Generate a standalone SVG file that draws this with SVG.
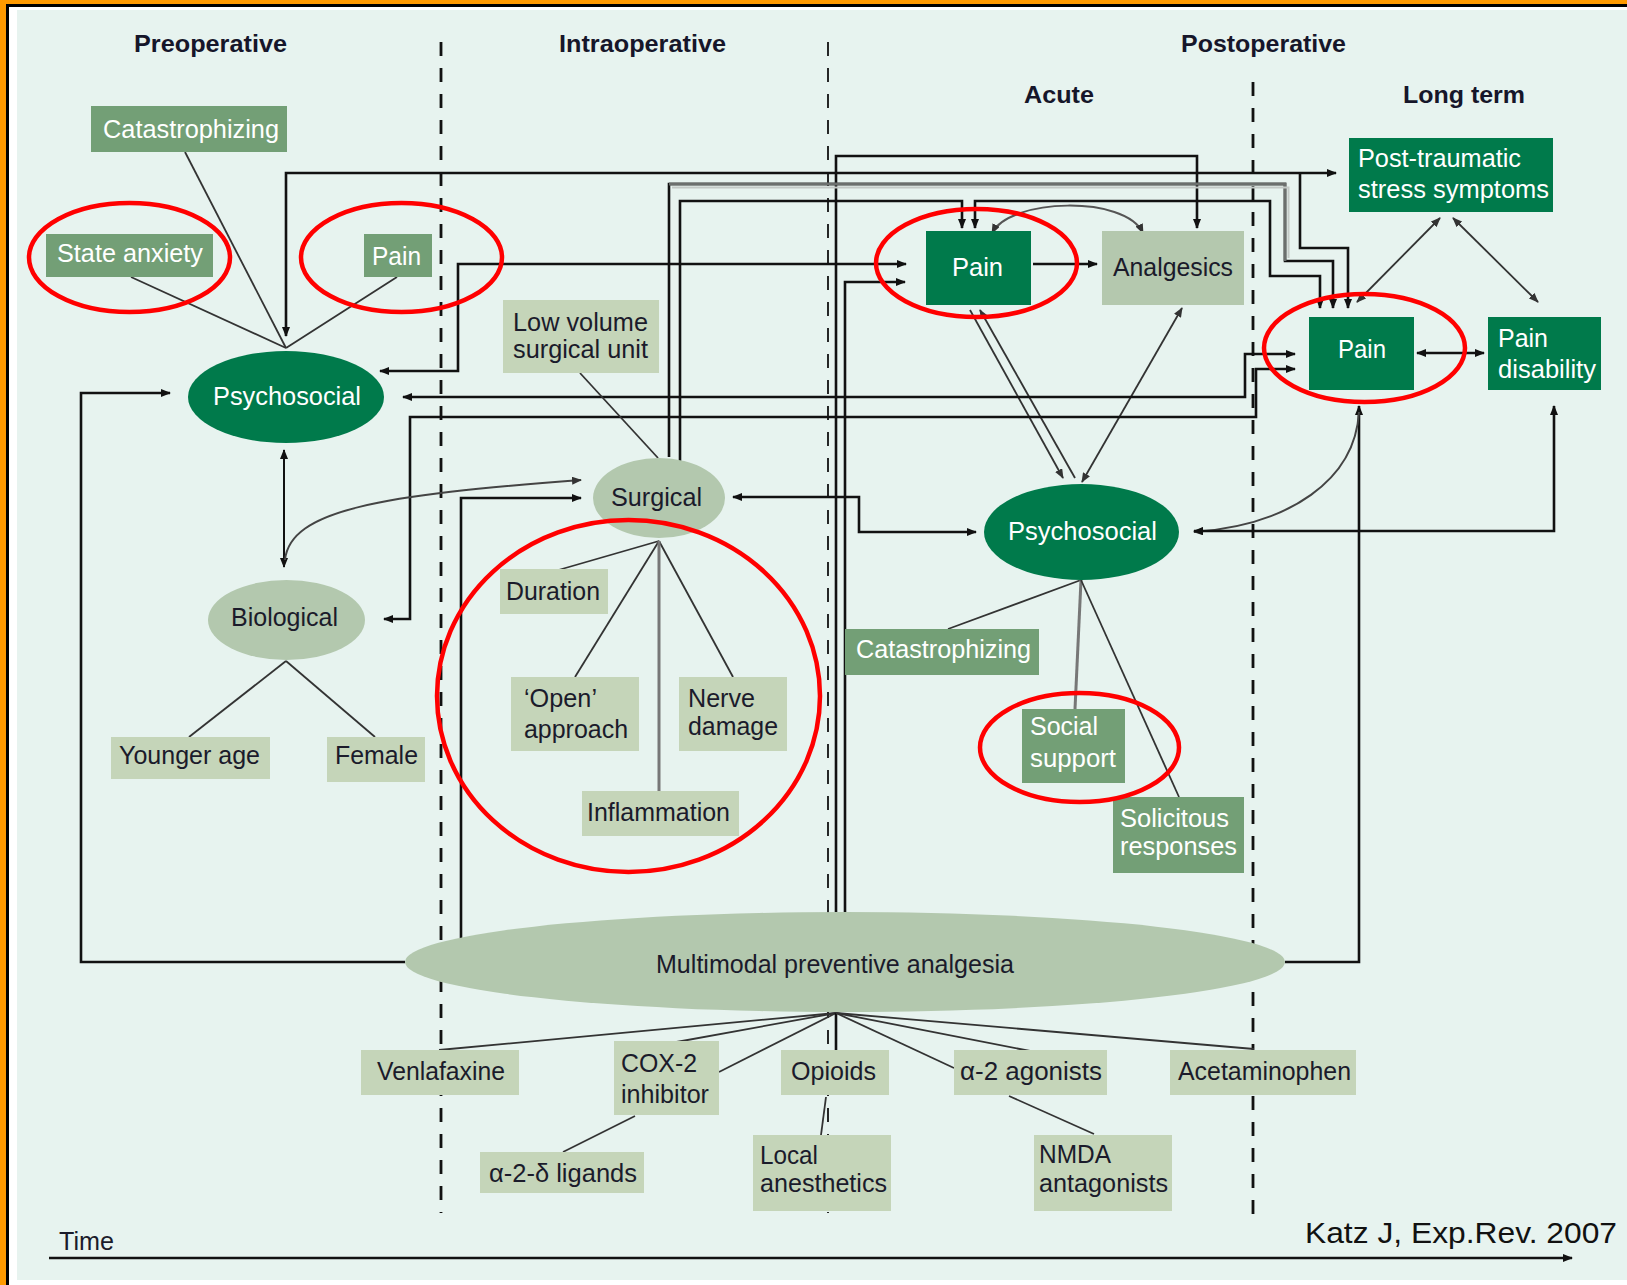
<svg xmlns="http://www.w3.org/2000/svg" width="1627" height="1285" viewBox="0 0 1627 1285">
<defs>
<marker id="ah" markerUnits="userSpaceOnUse" markerWidth="10" markerHeight="8" refX="9" refY="4" orient="auto-start-reverse"><path d="M0,0 L10,4 L0,8 z" fill="#111"/></marker>
<marker id="ahg" markerUnits="userSpaceOnUse" markerWidth="10" markerHeight="8" refX="9" refY="4" orient="auto-start-reverse"><path d="M0,0 L10,4 L0,8 z" fill="#333"/></marker>
<style>
.bg{fill:#E7F3EF}
.dk{fill:#007A4B}
.md{fill:#739F76}
.lt{fill:#C5D5B9}
.le{fill:#B3C8AE}
.red{fill:none;stroke:#FF0000;stroke-width:4.5}
.c{fill:none;stroke:#111;stroke-width:2.6}
.t{fill:none;stroke:#333;stroke-width:1.8}
.tg{fill:none;stroke:#777;stroke-width:3}
.dash1{stroke:#111;stroke-width:2.8;stroke-dasharray:14 12;fill:none}
.dash2{stroke:#111;stroke-width:1.8;stroke-dasharray:14 12;fill:none}
text{font-family:"Liberation Sans",Arial,sans-serif;font-size:25px}
.w{fill:#FFFFFF}
.b{fill:#1B1B2B}
.h{font-weight:bold;font-size:24px;fill:#16162A}
</style>
</defs>
<rect x="0" y="0" width="1627" height="1285" fill="#FF9A00"/>
<rect x="6" y="4" width="1621" height="1281" fill="#000"/>
<rect x="9" y="7" width="1618" height="1278" fill="#FFFFFF"/>
<rect x="17" y="10" width="1610" height="1270" class="bg"/>

<g id="phase-lines">
<line x1="441" y1="42" x2="441" y2="1213" class="dash1"/>
<line x1="828" y1="42" x2="828" y2="1213" class="dash2"/>
<line x1="1253" y1="82" x2="1253" y2="1225" class="dash1"/>
</g>

<g id="headers">
<text class="h" x="134" y="52" textLength="153" lengthAdjust="spacingAndGlyphs">Preoperative</text>
<text class="h" x="559" y="52" textLength="167" lengthAdjust="spacingAndGlyphs">Intraoperative</text>
<text class="h" x="1181" y="52" textLength="165" lengthAdjust="spacingAndGlyphs">Postoperative</text>
<text class="h" x="1024" y="103" textLength="70" lengthAdjust="spacingAndGlyphs">Acute</text>
<text class="h" x="1403" y="103" textLength="122" lengthAdjust="spacingAndGlyphs">Long term</text>
</g>

<g id="connectors">
<line x1="185" y1="152" x2="286" y2="348" class="t"/>
<line x1="131" y1="277" x2="286" y2="348" class="t"/>
<line x1="397" y1="277" x2="286" y2="348" class="t"/>
<path d="M286,336 V173 H1336" class="c" marker-start="url(#ah)" marker-end="url(#ah)"/>
<path d="M1300,173 V248 H1348 V308" class="c" marker-end="url(#ah)"/>
<path d="M836,912 V156 H1197 V228" class="c" marker-end="url(#ah)"/>
<path d="M669,457 V184 H1285 V261 H1333 V308" class="c" marker-end="url(#ah)"/>
<path d="M669,184 H1285 V261" fill="none" stroke="#6B6F6D" stroke-width="2.8"/>
<path d="M672,187.5 H1288.5 V258" fill="none" stroke="#C3C9C6" stroke-width="2"/>
<path d="M680,461 V201 H962 V228" class="c" marker-end="url(#ah)"/>
<path d="M975,228 V201 H1270 V276 H1320 V308" class="c" marker-start="url(#ah)" marker-end="url(#ah)"/>
<path d="M380,371 H458 V264 H906" class="c" marker-start="url(#ah)" marker-end="url(#ah)"/>
<path d="M845,912 V282 H905" class="c" marker-end="url(#ah)"/>
<path d="M1033,264 H1097" class="c" marker-end="url(#ah)"/>
<path d="M992,233 C1010,198 1125,195 1143,233" fill="none" stroke="#555" stroke-width="2" marker-start="url(#ahg)" marker-end="url(#ahg)"/>
<line x1="970" y1="310" x2="1063" y2="478" class="t" stroke-width="2" marker-end="url(#ahg)"/>
<line x1="980" y1="310" x2="1075" y2="478" class="t" stroke-width="2" marker-start="url(#ahg)"/>
<line x1="1182" y1="308" x2="1082" y2="482" class="t" stroke-width="2" marker-start="url(#ahg)" marker-end="url(#ahg)"/>
<path d="M403,397 H1245 V354 H1295" class="c" marker-start="url(#ah)" marker-end="url(#ah)"/>
<path d="M384,619 H410 V417 H1256 V369 H1295" class="c" marker-start="url(#ah)" marker-end="url(#ah)"/>
<path d="M170,393 H81 V962 H405" class="c" marker-start="url(#ah)"/>
<path d="M1285,962 H1359 V406" class="c" marker-end="url(#ah)"/>
<path d="M461,938 V498 H581" class="c" marker-end="url(#ah)"/>
<path d="M733,497 H859 V532 H976" class="c" marker-start="url(#ah)" marker-end="url(#ah)"/>
<path d="M284,450 V567" fill="none" stroke="#111" stroke-width="2" marker-start="url(#ah)" marker-end="url(#ah)"/>
<path d="M285,560 C290,510 380,495 581,480" fill="none" stroke="#444" stroke-width="2" marker-end="url(#ahg)"/>
<path d="M1417,353 H1484" class="c" marker-start="url(#ah)" marker-end="url(#ah)"/>
<line x1="1357" y1="302" x2="1440" y2="218" class="t" marker-start="url(#ahg)" marker-end="url(#ahg)"/>
<line x1="1453" y1="218" x2="1538" y2="302" class="t" marker-start="url(#ahg)" marker-end="url(#ahg)"/>
<path d="M1359,412 C1355,480 1290,525 1194,532" fill="none" stroke="#444" stroke-width="2" marker-end="url(#ahg)"/>
<path d="M1554,406 V531 H1194" class="c" marker-start="url(#ah)" marker-end="url(#ah)"/>
<line x1="1081" y1="580" x2="948" y2="629" class="t"/>
<line x1="1081" y1="580" x2="1075" y2="709" class="tg" stroke-width="2.4"/>
<line x1="1081" y1="580" x2="1179" y2="797" class="t"/>
<line x1="580" y1="373" x2="658" y2="458" class="t"/>
<line x1="659" y1="541" x2="555" y2="571" class="t"/>
<line x1="659" y1="541" x2="575" y2="677" class="t"/>
<line x1="659" y1="541" x2="733" y2="677" class="t"/>
<line x1="659" y1="541" x2="659" y2="791" class="tg"/>
<line x1="286" y1="661" x2="189" y2="737" class="t"/>
<line x1="286" y1="661" x2="375" y2="737" class="t"/>
<line x1="836" y1="1013" x2="439" y2="1050" class="t" stroke-width="2.2"/>
<line x1="836" y1="1013" x2="671" y2="1043" class="t" stroke-width="2.2"/>
<line x1="836" y1="1013" x2="719" y2="1072" class="t"/>
<line x1="836" y1="1013" x2="836" y2="1050" class="c" stroke-width="2.2"/>
<line x1="836" y1="1013" x2="954" y2="1068" class="t"/>
<line x1="836" y1="1013" x2="1030" y2="1051" class="t" stroke-width="2.2"/>
<line x1="836" y1="1013" x2="1254" y2="1049" class="t" stroke-width="2.2"/>
<line x1="635" y1="1116" x2="563" y2="1152" class="t"/>
<line x1="826" y1="1097" x2="821" y2="1135" class="t"/>
<line x1="1009" y1="1096" x2="1094" y2="1134" class="t"/>
<line x1="49" y1="1258" x2="1572" y2="1258" class="c" stroke-width="3" marker-end="url(#ah)"/>
</g>

<g id="pre-catastrophizing"><rect x="91" y="106" width="196" height="46" class="md"/><text class="w" x="103" y="138" textLength="176" lengthAdjust="spacingAndGlyphs">Catastrophizing</text></g>
<g id="pre-state-anxiety"><rect x="46" y="234" width="167" height="43" class="md"/><text class="w" x="57" y="262" textLength="146" lengthAdjust="spacingAndGlyphs">State anxiety</text></g>
<g id="pre-pain"><rect x="364" y="234" width="68" height="43" class="md"/><text class="w" x="372" y="265" textLength="49" lengthAdjust="spacingAndGlyphs">Pain</text></g>
<g id="pre-psychosocial"><ellipse cx="286" cy="397" rx="98" ry="46" class="dk"/><text class="w" x="213" y="405" textLength="148" lengthAdjust="spacingAndGlyphs">Psychosocial</text></g>
<g id="pre-biological"><ellipse cx="286.5" cy="620" rx="78.5" ry="40" class="le"/><text class="b" x="231" y="626" textLength="107" lengthAdjust="spacingAndGlyphs">Biological</text></g>
<g id="younger-age"><rect x="111" y="737" width="159" height="42" class="lt"/><text class="b" x="119" y="764" textLength="141" lengthAdjust="spacingAndGlyphs">Younger age</text></g>
<g id="female"><rect x="327" y="737" width="98" height="45" class="lt"/><text class="b" x="335" y="764" textLength="83" lengthAdjust="spacingAndGlyphs">Female</text></g>

<g id="low-volume"><rect x="503" y="300" width="156" height="73" class="lt"/><text class="b" x="513" y="331" textLength="135" lengthAdjust="spacingAndGlyphs">Low volume</text><text class="b" x="513" y="358" textLength="135" lengthAdjust="spacingAndGlyphs">surgical unit</text></g>
<g id="surgical"><ellipse cx="659" cy="498" rx="66" ry="40" class="le"/><text class="b" x="611" y="506" textLength="91" lengthAdjust="spacingAndGlyphs">Surgical</text></g>
<g id="duration"><rect x="500" y="569" width="108" height="45" class="lt"/><text class="b" x="506" y="600" textLength="94" lengthAdjust="spacingAndGlyphs">Duration</text></g>
<g id="open-approach"><rect x="511" y="677" width="128" height="74" class="lt"/><text class="b" x="524" y="707" textLength="73" lengthAdjust="spacingAndGlyphs">‘Open’</text><text class="b" x="524" y="738" textLength="104" lengthAdjust="spacingAndGlyphs">approach</text></g>
<g id="nerve-damage"><rect x="679" y="677" width="108" height="74" class="lt"/><text class="b" x="688" y="707" textLength="67" lengthAdjust="spacingAndGlyphs">Nerve</text><text class="b" x="688" y="735" textLength="90" lengthAdjust="spacingAndGlyphs">damage</text></g>
<g id="inflammation"><rect x="582" y="791" width="157" height="45" class="lt"/><text class="b" x="587" y="821" textLength="143" lengthAdjust="spacingAndGlyphs">Inflammation</text></g>

<g id="acute-pain"><rect x="926" y="231" width="105" height="74" class="dk"/><text class="w" x="952" y="276" textLength="51" lengthAdjust="spacingAndGlyphs">Pain</text></g>
<g id="analgesics"><rect x="1102" y="231" width="142" height="74" fill="#B4C8AE"/><text class="b" x="1113" y="276" textLength="120" lengthAdjust="spacingAndGlyphs">Analgesics</text></g>
<g id="acute-psychosocial"><ellipse cx="1081.5" cy="532" rx="97.5" ry="48" class="dk"/><text class="w" x="1008" y="540" textLength="149" lengthAdjust="spacingAndGlyphs">Psychosocial</text></g>
<g id="acute-catastrophizing"><rect x="845" y="629" width="194" height="46" class="md"/><text class="w" x="856" y="658" textLength="175" lengthAdjust="spacingAndGlyphs">Catastrophizing</text></g>
<g id="social-support"><rect x="1022" y="709" width="103" height="74" class="md"/><text class="w" x="1030" y="735" textLength="68" lengthAdjust="spacingAndGlyphs">Social</text><text class="w" x="1030" y="767" textLength="86" lengthAdjust="spacingAndGlyphs">support</text></g>
<g id="solicitous"><rect x="1113" y="797" width="131" height="76" class="md"/><text class="w" x="1120" y="827" textLength="109" lengthAdjust="spacingAndGlyphs">Solicitous</text><text class="w" x="1120" y="855" textLength="117" lengthAdjust="spacingAndGlyphs">responses</text></g>

<g id="post-traumatic"><rect x="1349" y="138" width="204" height="74" class="dk"/><text class="w" x="1358" y="167" textLength="163" lengthAdjust="spacingAndGlyphs">Post-traumatic</text><text class="w" x="1358" y="198" textLength="191" lengthAdjust="spacingAndGlyphs">stress symptoms</text></g>
<g id="lt-pain"><rect x="1309" y="317" width="105" height="73" class="dk"/><text class="w" x="1338" y="358" textLength="48" lengthAdjust="spacingAndGlyphs">Pain</text></g>
<g id="pain-disability"><rect x="1488" y="317" width="113" height="73" class="dk"/><text class="w" x="1498" y="347" textLength="50" lengthAdjust="spacingAndGlyphs">Pain</text><text class="w" x="1498" y="378" textLength="98" lengthAdjust="spacingAndGlyphs">disability</text></g>

<g id="multimodal"><ellipse cx="845" cy="962" rx="440" ry="50" class="le"/><text class="b" x="656" y="973" textLength="358" lengthAdjust="spacingAndGlyphs">Multimodal preventive analgesia</text></g>
<g id="venlafaxine"><rect x="361" y="1050" width="158" height="45" class="lt"/><text class="b" x="377" y="1080" textLength="128" lengthAdjust="spacingAndGlyphs">Venlafaxine</text></g>
<g id="cox2"><rect x="614" y="1041" width="105" height="74" class="lt"/><text class="b" x="621" y="1072" textLength="76" lengthAdjust="spacingAndGlyphs">COX-2</text><text class="b" x="621" y="1103" textLength="88" lengthAdjust="spacingAndGlyphs">inhibitor</text></g>
<g id="opioids"><rect x="781" y="1050" width="108" height="45" class="lt"/><text class="b" x="791" y="1080" textLength="85" lengthAdjust="spacingAndGlyphs">Opioids</text></g>
<g id="a2-agonists"><rect x="954" y="1050" width="153" height="45" class="lt"/><text class="b" x="960" y="1080" textLength="142" lengthAdjust="spacingAndGlyphs">α-2 agonists</text></g>
<g id="acetaminophen"><rect x="1170" y="1050" width="186" height="45" class="lt"/><text class="b" x="1178" y="1080" textLength="173" lengthAdjust="spacingAndGlyphs">Acetaminophen</text></g>
<g id="a2d-ligands"><rect x="480" y="1152" width="164" height="41" class="lt"/><text class="b" x="489" y="1182" textLength="148" lengthAdjust="spacingAndGlyphs">α-2-δ ligands</text></g>
<g id="local-anesthetics"><rect x="753" y="1135" width="138" height="76" class="lt"/><text class="b" x="760" y="1164" textLength="58" lengthAdjust="spacingAndGlyphs">Local</text><text class="b" x="760" y="1192" textLength="127" lengthAdjust="spacingAndGlyphs">anesthetics</text></g>
<g id="nmda"><rect x="1034" y="1135" width="138" height="76" class="lt"/><text class="b" x="1039" y="1163" textLength="72" lengthAdjust="spacingAndGlyphs">NMDA</text><text class="b" x="1039" y="1192" textLength="129" lengthAdjust="spacingAndGlyphs">antagonists</text></g>

<g id="highlights">
<ellipse cx="129.5" cy="257.5" rx="100.5" ry="54.5" class="red"/>
<ellipse cx="401.5" cy="257.5" rx="100.5" ry="54.5" class="red"/>
<ellipse cx="976.5" cy="263" rx="100.5" ry="54" class="red"/>
<ellipse cx="1364.5" cy="348" rx="100.5" ry="54" class="red"/>
<ellipse cx="628.5" cy="696" rx="191.5" ry="176" class="red"/>
<ellipse cx="1079.5" cy="747.5" rx="99.5" ry="54.5" class="red"/>
</g>

<g id="labels">
<text class="b" x="59" y="1250" textLength="55" lengthAdjust="spacingAndGlyphs">Time</text>
<text x="1305" y="1243" style="font-size:30px" fill="#111" textLength="312" lengthAdjust="spacingAndGlyphs">Katz J, Exp.Rev. 2007</text>
</g>
</svg>
